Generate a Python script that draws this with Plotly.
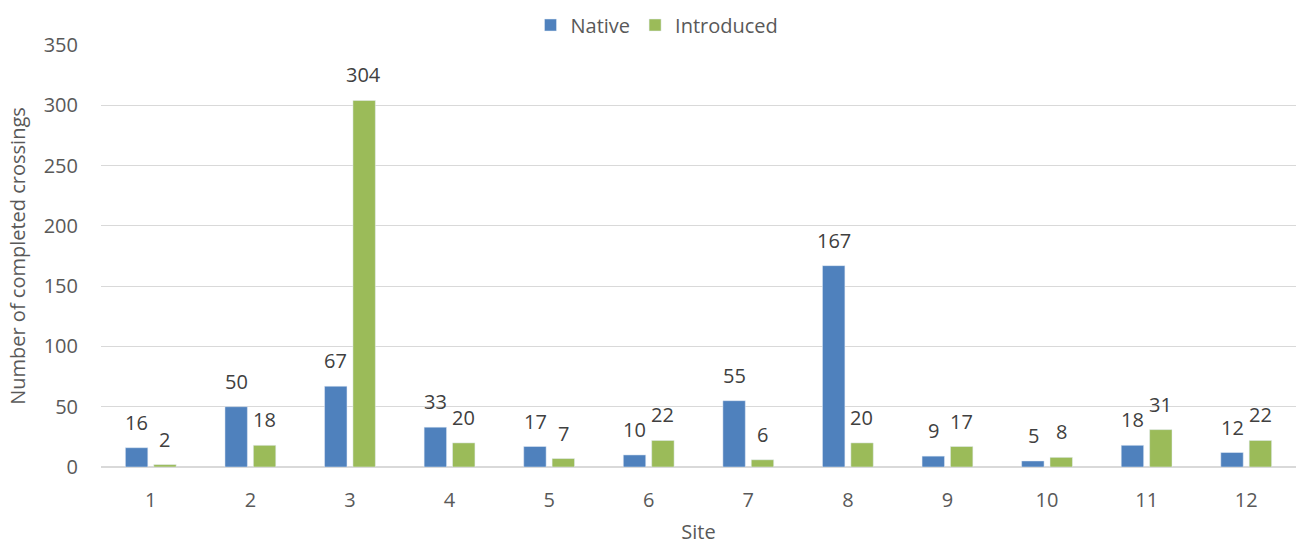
import plotly.graph_objects as go

sites = ["1", "2", "3", "4", "5", "6", "7", "8", "9", "10", "11", "12"]
native = [16, 50, 67, 33, 17, 10, 55, 167, 9, 5, 18, 12]
introduced = [2, 18, 304, 20, 7, 22, 6, 20, 17, 8, 31, 22]

FONT = "Open Sans"
TXT = "#595959"
LBL = "#404040"
FS = 20

fig = go.Figure()
fig.add_trace(go.Bar(x=sites, y=native, name="Native", marker_color="#4F81BD"))
fig.add_trace(go.Bar(x=sites, y=introduced, name="Introduced", marker_color="#9BBB59"))

# data labels above bars (category index positions on the category axis)
for series, shift in ((native, -14), (introduced, 14)):
    for i, v in enumerate(series):
        fig.add_annotation(x=i, y=v, xref="x", yref="y", text=str(v),
                           showarrow=False, xanchor="center", yanchor="bottom",
                           xshift=shift, yshift=10,
                           font=dict(size=FS, color=LBL, family=FONT))

fig.update_layout(
    width=1296, height=545,
    margin=dict(l=101, r=0, t=45, b=78, autoexpand=False),
    paper_bgcolor="white", plot_bgcolor="white",
    barmode="group", bargap=0.43, bargroupgap=0.21,
    font=dict(family=FONT, size=FS, color=TXT),
    showlegend=True,
    legend=dict(orientation="h", x=657 / 1296, xanchor="center", xref="container",
                y=1 - 25 / 545, yanchor="middle", yref="container",
                font=dict(size=FS, color=TXT), traceorder="normal"),
)
fig.update_xaxes(
    type="category",
    range=[-0.5, len(sites) - 0.5],
    automargin=False,
    title=dict(text="Site", font=dict(size=FS, color=TXT), standoff=23),
    showline=True, linecolor="#D9D9D9", linewidth=1,
    tickfont=dict(size=FS, color=TXT), ticklabelstandoff=15,
    showgrid=False,
)
fig.update_yaxes(
    automargin=False,
    range=[0, 350], dtick=50,
    title=dict(text="Number of completed crossings", font=dict(size=FS, color=TXT), standoff=12),
    showgrid=True, gridcolor="#D9D9D9", gridwidth=1,
    zeroline=True, zerolinecolor="#D9D9D9",
    tickfont=dict(size=FS, color=TXT), ticklabelstandoff=22,
)

fig.write_html("out.html", config={"displayModeBar": False},
               post_script="document.body.style.margin='0';document.body.style.overflow='hidden';")
